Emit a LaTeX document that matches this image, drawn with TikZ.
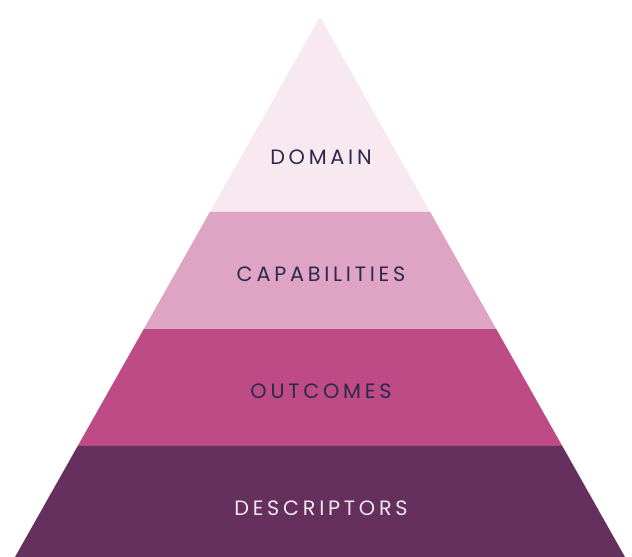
\documentclass[tikz,border=0pt]{standalone}
\usepackage{fontspec}
\usetikzlibrary{calc}
\newfontfamily\layerfont[LetterSpace=18]{Poppins}

\definecolor{domaincol}{HTML}{F8E9F1}
\definecolor{capacol}{HTML}{DFA3C4}
\definecolor{outcol}{HTML}{BE4A86}
\definecolor{desccol}{HTML}{65305D}
\definecolor{inkdark}{HTML}{2B2A4C}
\definecolor{inklight}{HTML}{F0E6EE}

\tikzset{
  layer/.style={fill=#1, draw=none},
  layertext/.style={font=\layerfont\fontsize{20.8}{21}\selectfont, text=#1, anchor=center}
}

\begin{document}
\begin{tikzpicture}[x=1pt,y=-1pt]
    \useasboundingbox (0,0) rectangle (632,557);

		\coordinate (apex) at (320,17);
		\coordinate (bl) at (15,557);
		\coordinate (br) at (625,557);

		\coordinate (l1) at ($(apex)!0.3611!(bl)$);
		\coordinate (r1) at ($(apex)!0.3611!(br)$);
		\coordinate (l2) at ($(apex)!0.5778!(bl)$);
		\coordinate (r2) at ($(apex)!0.5778!(br)$);
		\coordinate (l3) at ($(apex)!0.7944!(bl)$);
		\coordinate (r3) at ($(apex)!0.7944!(br)$);

		\fill[layer=domaincol] (apex) -- (r1) -- (l1) -- cycle;
		\fill[layer=capacol] (l1) -- (r1) -- (r2) -- (l2) -- cycle;
		\fill[layer=outcol] (l2) -- (r2) -- (r3) -- (l3) -- cycle;
		\fill[layer=desccol] (l3) -- (r3) -- (br) -- (bl) -- cycle;

		\node[layertext=inkdark] (domain) at (321,157) {DOMAIN};
		\node[layertext=inkdark] (capabilities) at (321,274) {CAPABILITIES};
		\node[layertext=inkdark] (outcomes) at (321,391) {OUTCOMES};
		\node[layertext=inklight] (descriptors) at (321,508) {DESCRIPTORS};

\end{tikzpicture}
\end{document}
